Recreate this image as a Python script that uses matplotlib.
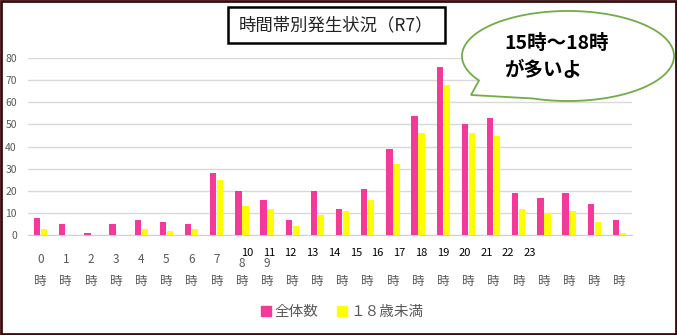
import matplotlib.pyplot as plt
import numpy as np
from matplotlib.patches import Rectangle, Polygon
from matplotlib.lines import Line2D

plt.rcParams['font.family'] = ['Noto Sans CJK JP', 'DejaVu Sans']

hours = list(range(24))
total = [8, 5, 1, 5, 7, 6, 5, 28, 20, 16, 7, 20, 12, 21, 39, 54, 76, 50, 53, 19, 17, 19, 14, 7]
under18 = [3, 0, 0, 0, 3, 2, 3, 25, 13, 12, 4, 9, 11, 16, 32, 46, 68, 46, 45, 12, 10, 11, 6, 1]
yticks = [0, 10, 20, 30, 40, 50, 60, 70, 80]

pink = '#F5399A'
yellow = '#FFFF00'
gray = '#595959'

W, H = 677, 335
fig = plt.figure(figsize=(W / 100, H / 100), dpi=100)
ax = fig.add_axes([28 / W, 1 - 235.3 / H, 604 / W, 177.3 / H])

x = np.arange(len(hours))
ax.bar(x - 0.14, total, width=0.25, color=pink, zorder=3)
ax.bar(x + 0.14, under18, width=0.25, color=yellow, zorder=3)

ax.set_xlim(-0.5, 23.5)
ax.set_ylim(0, 80)
ax.set_yticks(yticks)
ax.yaxis.grid(True, color='#d9d9d9', linewidth=1)
ax.set_axisbelow(True)
for s in ['top', 'right', 'left']:
    ax.spines[s].set_visible(False)
ax.spines['bottom'].set_color('#d0d0d0')
ax.tick_params(axis='y', length=0, labelsize=7.5, labelcolor=gray, pad=8)
ax.set_xticks([])

# x labels (as rendered in the original, crowded)
tr = ax.get_xaxis_transform()
for h in hours:
    ax.text(h, -0.263, '時', transform=tr, ha='center', va='center', fontsize=9, color=gray)
for h in hours[:10]:
    yy = -0.16 if h >= 8 else -0.134
    ax.text(h, yy, str(h), transform=tr, ha='center', va='center', fontsize=8.5, color=gray)
for k, h in enumerate(hours[10:]):
    ax.text(8.2 + 0.865 * k, -0.1, str(h), transform=tr, ha='center', va='center',
            fontsize=8, color='black')

# legend
handles = [Line2D([], [], marker='s', linestyle='', color=pink, markersize=7),
           Line2D([], [], marker='s', linestyle='', color=yellow, markersize=7)]
fig.legend(handles, ['全体数', '１８歳未満'], loc='center', bbox_to_anchor=(342 / W, 1 - 312 / H),
           ncol=2, frameon=False, fontsize=10.5, labelcolor=gray, handlelength=0.8,
           handletextpad=0.2, columnspacing=1.2)

# title box
fig.patches.append(Rectangle((228 / W, 1 - 43 / H), 217 / W, 36 / H, transform=fig.transFigure,
                             fill=False, edgecolor='black', linewidth=1.8))
fig.text(336 / W, 1 - 25 / H, '時間帯別発生状況（R7）', ha='center', va='center', fontsize=12.5, color='#222222')

# speech bubble
cx, cy, rx, ry = 568, 56, 106, 45
t = np.linspace(0, 2 * np.pi, 400)
px = cx + rx * np.cos(t)
py = cy + ry * np.sin(t)
a1, a2 = np.deg2rad(110), np.deg2rad(147)
idx = np.where((t >= a1) & (t <= a2))[0]
pts = list(zip(px[:idx[0]], py[:idx[0]])) + [(471, 95)] + list(zip(px[idx[-1] + 1:], py[idx[-1] + 1:]))
pts = [(u / W, 1 - v / H) for u, v in pts]
fig.patches.append(Polygon(pts, closed=True, transform=fig.transFigure, facecolor='white',
                           edgecolor='#70AD47', linewidth=1.3, zorder=5))
fig.text(504 / W, 1 - 43 / H, '15時～18時', ha='left', va='center', fontsize=14, fontweight='bold', zorder=6)
fig.text(504 / W, 1 - 70 / H, 'が多いよ', ha='left', va='center', fontsize=14, fontweight='bold', zorder=6)

# outer frame
fig.patches.append(Rectangle((0.002, 0.003), 0.996, 0.994, transform=fig.transFigure,
                             fill=False, edgecolor='#3a0b0b', linewidth=2))

fig.savefig('out.png', dpi=100)
